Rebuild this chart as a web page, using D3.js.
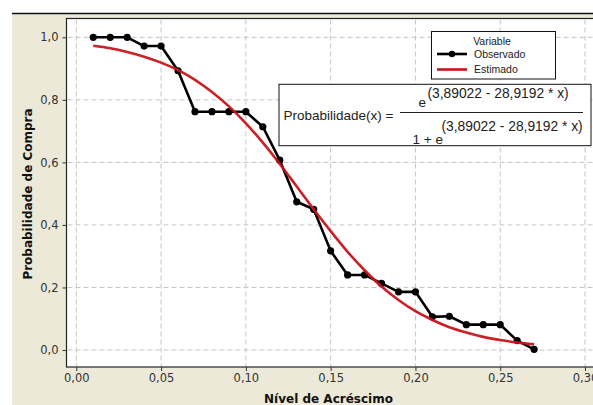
<!DOCTYPE html>
<html lang="pt">
<head>
  <meta charset="UTF-8">
  <title>Probabilidade de Compra</title>
  <style>
    body { margin: 0; background: #fff; }
    svg { display: block; }
  </style>
</head>
<body>
<div id="chart"></div>
<script src="https://d3js.org/d3.v7.min.js"></script>
<script>
  const nivel = [0.01, 0.02, 0.03, 0.04, 0.05, 0.06, 0.07, 0.08, 0.09, 0.10,
                 0.11, 0.12, 0.13, 0.14, 0.15, 0.16, 0.17, 0.18, 0.19, 0.20,
                 0.21, 0.22, 0.23, 0.24, 0.25, 0.26, 0.27];
  const observado = [1.0, 1.0, 1.0, 0.972, 0.972, 0.893, 0.762, 0.762, 0.762, 0.762,
                     0.714, 0.607, 0.474, 0.45, 0.317, 0.24, 0.24, 0.213, 0.186, 0.186,
                     0.106, 0.108, 0.081, 0.081, 0.081, 0.03, 0.002];
  const estimado = [0.973, 0.965, 0.953, 0.938, 0.919, 0.895, 0.864, 0.825, 0.779, 0.725,
                    0.663, 0.595, 0.523, 0.450, 0.380, 0.314, 0.255, 0.203, 0.160, 0.124,
                    0.096, 0.073, 0.056, 0.042, 0.032, 0.024, 0.018];
  const xTicks = [0, 0.05, 0.10, 0.15, 0.20, 0.25, 0.30];
  const yTicks = [0, 0.2, 0.4, 0.6, 0.8, 1.0];
  const legendItems = ["Observado", "Estimado"];
  const coeficientes = ["3,89022", "28,9192"];

  const width = 593, height = 405;
  const fmt = d => d3.format(".2f")(d).replace(".", ",");
  const fmtY = d => d3.format(".1f")(d).replace(".", ",");

  const svg = d3.select("#chart").append("svg")
    .attr("width", width)
    .attr("height", height);

  // background panel
  svg.append("rect")
    .attr("x", 12).attr("y", 13)
    .attr("width", width - 12).attr("height", height - 13)
    .attr("fill", "#ece9d8");
  svg.append("line")
    .attr("x1", 12).attr("x2", width)
    .attr("y1", 13.5).attr("y2", 13.5)
    .attr("stroke", "#111").attr("stroke-width", 1.3);

  const x = d3.scaleLinear().domain([0, 0.30]).range([76.3, 585]);
  const y = d3.scaleLinear().domain([0, 1]).range([350, 37.3]);

  const plot = { left: 66.5, top: 18.5, right: 600, bottom: 367 };

  svg.append("rect")
    .attr("x", plot.left).attr("y", plot.top)
    .attr("width", plot.right - plot.left).attr("height", plot.bottom - plot.top)
    .attr("fill", "#fff")
    .attr("stroke", "#222").attr("stroke-width", 1.2);

  // grid
  svg.append("g").selectAll("line")
    .data(xTicks)
    .join("line")
    .attr("x1", d => x(d)).attr("x2", d => x(d))
    .attr("y1", plot.top + 1).attr("y2", plot.bottom - 1)
    .attr("stroke", "#c4c4c4").attr("stroke-dasharray", "5,3");
  svg.append("g").selectAll("line")
    .data(yTicks)
    .join("line")
    .attr("x1", plot.left + 1).attr("x2", plot.right)
    .attr("y1", d => y(d)).attr("y2", d => y(d))
    .attr("stroke", "#c4c4c4").attr("stroke-dasharray", "5,3");

  // axes
  const xAxis = d3.axisBottom(x).tickValues(xTicks).tickFormat(fmt).tickSize(4).tickPadding(3);
  const gx = svg.append("g").attr("transform", `translate(0,${plot.bottom})`).call(xAxis);
  gx.select(".domain").remove();
  gx.selectAll("line").attr("stroke", "#333");
  gx.selectAll("text")
    .attr("fill", "#333")
    .style("font-family", "DejaVu Sans, Verdana, sans-serif")
    .style("font-size", "11.5px");

  const yAxis = d3.axisLeft(y).tickValues(yTicks).tickFormat(fmtY).tickSize(4).tickPadding(4);
  const gy = svg.append("g").attr("transform", `translate(${plot.left},0)`).call(yAxis);
  gy.select(".domain").remove();
  gy.selectAll("line").attr("stroke", "#333");
  gy.selectAll("text")
    .attr("fill", "#333")
    .style("font-family", "DejaVu Sans, Verdana, sans-serif")
    .style("font-size", "11.5px");

  // axis titles
  svg.append("text")
    .attr("x", 328.5).attr("y", 403)
    .attr("text-anchor", "middle")
    .style("font-family", "DejaVu Sans, Verdana, sans-serif")
    .style("font-weight", "bold")
    .style("font-size", "12px")
    .attr("fill", "#111")
    .text("Nível de Acréscimo");
  svg.append("text")
    .attr("transform", "translate(32,194) rotate(-90)")
    .attr("text-anchor", "middle")
    .style("font-family", "DejaVu Sans, Verdana, sans-serif")
    .style("font-weight", "bold")
    .style("font-size", "12px")
    .attr("fill", "#111")
    .text("Probabilidade de Compra");

  // series
  const obsData = nivel.map((d, i) => [d, observado[i]]);
  const estData = nivel.map((d, i) => [d, estimado[i]]);

  const line = d3.line().x(d => x(d[0])).y(d => y(d[1]));
  const smooth = d3.line().x(d => x(d[0])).y(d => y(d[1])).curve(d3.curveMonotoneX);

  svg.append("path")
    .datum(obsData)
    .attr("d", line)
    .attr("fill", "none")
    .attr("stroke", "#000")
    .attr("stroke-width", 2.6)
    .attr("stroke-linejoin", "round");

  svg.append("g").selectAll("circle")
    .data(obsData)
    .join("circle")
    .attr("cx", d => x(d[0]))
    .attr("cy", d => y(d[1]))
    .attr("r", 3.6)
    .attr("fill", "#000");

  svg.append("path")
    .datum(estData)
    .attr("d", smooth)
    .attr("fill", "none")
    .attr("stroke", "#c8141a")
    .attr("stroke-width", 2.6)
    .attr("opacity", 0.95);

  // legend
  const legend = svg.append("g");
  legend.append("rect")
    .attr("x", 431.5).attr("y", 31.5)
    .attr("width", 124).attr("height", 47.5)
    .attr("fill", "#fff").attr("stroke", "#111").attr("stroke-width", 1);
  legend.append("text")
    .attr("x", 492).attr("y", 45)
    .attr("text-anchor", "middle")
    .style("font-family", "Liberation Sans, Arial, sans-serif")
    .style("font-size", "10.5px")
    .attr("fill", "#222")
    .text("Variable");
  const li = legend.selectAll(".item")
    .data(legendItems)
    .join("g")
    .attr("class", "item")
    .attr("transform", (d, i) => `translate(0,${54 + i * 15.5})`);
  li.append("line")
    .attr("x1", 437).attr("x2", 467)
    .attr("stroke", (d, i) => i === 0 ? "#000" : "#c8141a")
    .attr("stroke-width", 2.6);
  li.filter((d, i) => i === 0).append("circle")
    .attr("cx", 452).attr("r", 3.2).attr("fill", "#000");
  li.append("text")
    .attr("x", 474).attr("y", 3.8)
    .style("font-family", "Liberation Sans, Arial, sans-serif")
    .style("font-size", "10.5px")
    .attr("fill", "#222")
    .text(d => d);

  // equation box
  const eq = svg.append("g")
    .style("font-family", "Liberation Sans, Arial, sans-serif")
    .attr("fill", "#222");
  eq.append("rect")
    .attr("x", 279).attr("y", 84.3)
    .attr("width", 312).attr("height", 61.4)
    .attr("fill", "#fff").attr("stroke", "#111").attr("stroke-width", 1);
  const expo = `(${coeficientes[0]} - ${coeficientes[1]} * x)`;
  eq.append("text")
    .attr("x", 283.5).attr("y", 119.5)
    .style("font-size", "13.5px")
    .text("Probabilidade(x) =");
  eq.append("line")
    .attr("x1", 400).attr("x2", 583)
    .attr("y1", 112.5).attr("y2", 112.5)
    .attr("stroke", "#222").attr("stroke-width", 1);
  eq.append("text")
    .attr("x", 418.5).attr("y", 106.5)
    .style("font-size", "13.5px")
    .text("e");
  eq.append("text")
    .attr("x", 427.5).attr("y", 97.5)
    .style("font-size", "13.8px")
    .text(expo);
  eq.append("text")
    .attr("x", 412.5).attr("y", 143.5)
    .style("font-size", "13.5px")
    .text("1 + e");
  eq.append("text")
    .attr("x", 441.5).attr("y", 131)
    .style("font-size", "13.8px")
    .text(expo);
</script>
</body>
</html>
